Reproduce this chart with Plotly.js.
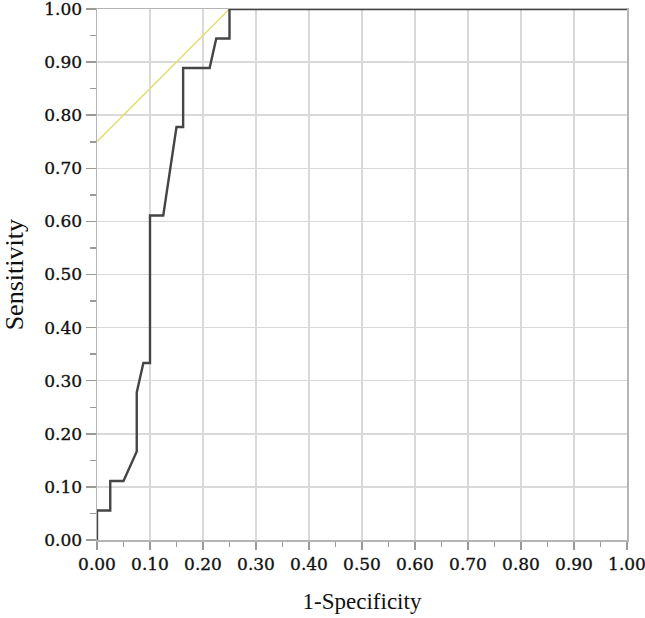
<!DOCTYPE html>
<html>
<head>
<meta charset="utf-8">
<script src="https://cdn.plot.ly/plotly-3.0.1.min.js"></script>
<style>
  html, body { margin: 0; padding: 0; background: #fff; }
  #plot { width: 645px; height: 618px; }
  .xtick text, .ytick text { stroke: #111; stroke-width: 0.35px; }
</style>
</head>
<body>
<div id="plot"></div>
<script>
// ROC curve points (1-specificity, sensitivity)
const rocX = [0, 0, 0.025, 0.025, 0.05, 0.075, 0.075, 0.0875, 0.1, 0.1, 0.125, 0.15, 0.1625, 0.1625, 0.2125, 0.225, 0.25, 0.25, 1];
const rocY = [0, 0.0556, 0.0556, 0.1111, 0.1111, 0.1667, 0.2778, 0.3333, 0.3333, 0.6111, 0.6111, 0.7778, 0.7778, 0.8889, 0.8889, 0.9444, 0.9444, 1, 1];

// yellow reference line
const refX = [0, 0.25];
const refY = [0.75, 1];

const tickVals = [0, 0.1, 0.2, 0.3, 0.4, 0.5, 0.6, 0.7, 0.8, 0.9, 1];
const tickText = tickVals.map(v => v.toFixed(2));

const traces = [
  {
    x: refX, y: refY,
    mode: "lines", type: "scatter",
    line: { color: "#e6df78", width: 1.6 },
    cliponaxis: false,
    hoverinfo: "skip"
  },
  {
    x: rocX, y: rocY,
    mode: "lines", type: "scatter",
    line: { color: "#454545", width: 2.4 },
    cliponaxis: false
  }
];

const tickFont = { family: "DejaVu Serif", size: 17, color: "#111" };

const layout = {
  width: 645, height: 618,
  margin: { t: 9, r: 18, b: 78, l: 97 },
  paper_bgcolor: "#fff",
  plot_bgcolor: "#fff",
  showlegend: false,
  xaxis: {
    range: [0, 1],
    tickvals: tickVals, ticktext: tickText,
    ticklabeloverflow: "allow",
    showgrid: true, gridcolor: "#d9d9d9", gridwidth: 1.5,
    zeroline: false,
    showline: true, mirror: true, linecolor: "#b5b5b5", linewidth: 1.5,
    ticks: "outside", ticklen: 8, tickcolor: "#9a9a9a", tickwidth: 1.5,
    minor: { dtick: 0.05, ticks: "outside", ticklen: 5, tickcolor: "#9a9a9a", tickwidth: 1.5, showgrid: false },
    tickfont: tickFont,
    title: { text: "1-Specificity", font: { family: "Liberation Serif", size: 23, color: "#111" }, standoff: 20 }
  },
  yaxis: {
    range: [0, 1],
    tickvals: tickVals, ticktext: tickText,
    ticklabeloverflow: "allow",
    showgrid: true, gridcolor: "#d9d9d9", gridwidth: 1.5,
    zeroline: false,
    showline: true, mirror: true, linecolor: "#b5b5b5", linewidth: 1.5,
    ticks: "outside", ticklen: 10, tickcolor: "#9a9a9a", tickwidth: 1.5,
    minor: { dtick: 0.05, ticks: "outside", ticklen: 6, tickcolor: "#9a9a9a", tickwidth: 1.5, showgrid: false },
    tickfont: tickFont
  },
  annotations: [{
    text: "Sensitivity",
    xref: "paper", yref: "paper",
    x: -0.155, y: 0.5,
    xanchor: "center", yanchor: "middle",
    textangle: -90,
    showarrow: false,
    font: { family: "Liberation Serif", size: 26, color: "#111" }
  }]
};

Plotly.newPlot("plot", traces, layout, { displayModeBar: false, staticPlot: true });
</script>
</body>
</html>
